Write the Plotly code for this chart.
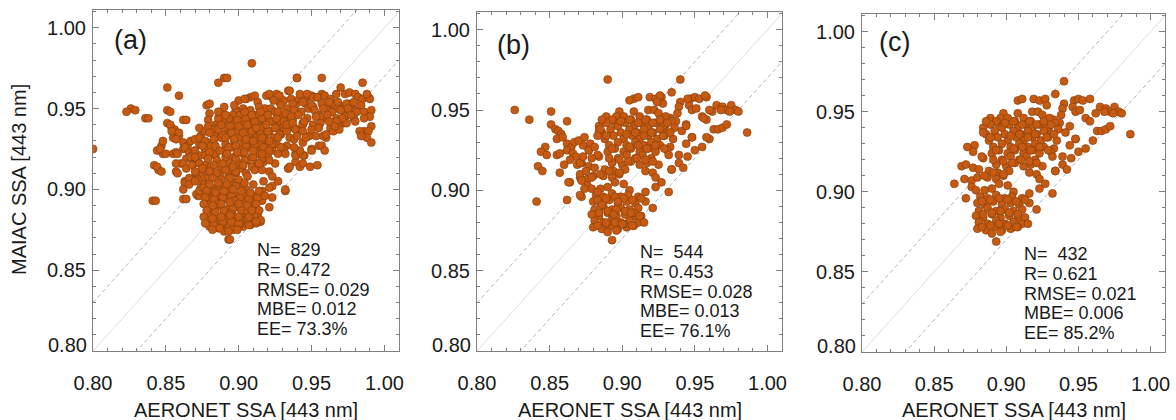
import plotly.graph_objects as go

# ---------------- data ----------------
# points of panel (c) = core + core_fill ; panel (b) = (c) + extra_b ; panel (a) = (b) + extra_a
core_points = [
    (0.940, 0.969), (0.934, 0.961),
    (0.908, 0.957), (0.911, 0.958), (0.919, 0.958), (0.923, 0.957), (0.927, 0.958), (0.928, 0.954),
    (0.918, 0.950), (0.922, 0.950), (0.925, 0.948), (0.908, 0.949),
    (0.940, 0.955), (0.939, 0.952), (0.938, 0.948),
    (0.947, 0.957), (0.950, 0.958), (0.953, 0.957), (0.958, 0.958),
    (0.946, 0.953), (0.948, 0.950), (0.951, 0.951),
    (0.955, 0.946), (0.958, 0.944), (0.962, 0.949), (0.965, 0.953), (0.969, 0.952), (0.972, 0.950),
    (0.975, 0.953), (0.978, 0.950), (0.974, 0.949), (0.980, 0.949), (0.968, 0.950),
    (0.963, 0.938), (0.966, 0.938), (0.969, 0.939), (0.972, 0.941),
    (0.986, 0.936), (0.955, 0.927), (0.960, 0.932),
    (0.898, 0.949), (0.896, 0.946), (0.894, 0.943),
    (0.937, 0.943), (0.933, 0.945), (0.930, 0.941),
    # upper dense block
    (0.889, 0.946), (0.893, 0.944), (0.901, 0.946), (0.906, 0.944), (0.912, 0.946), (0.917, 0.944), (0.930, 0.946), (0.934, 0.943),
    (0.884, 0.940), (0.889, 0.942), (0.897, 0.940), (0.902, 0.942), (0.908, 0.940), (0.913, 0.942), (0.918, 0.940),
    (0.923, 0.942), (0.928, 0.940), (0.936, 0.939), (0.944, 0.941),
    (0.886, 0.936), (0.892, 0.938), (0.899, 0.936), (0.905, 0.938), (0.910, 0.936), (0.915, 0.938), (0.921, 0.936),
    (0.926, 0.938), (0.931, 0.936), (0.941, 0.937),
    (0.888, 0.932), (0.894, 0.934), (0.901, 0.932), (0.907, 0.934), (0.912, 0.932), (0.918, 0.934), (0.924, 0.932),
    (0.929, 0.934), (0.935, 0.932), (0.948, 0.933),
    (0.878, 0.929), (0.891, 0.928), (0.897, 0.930), (0.903, 0.928), (0.909, 0.930), (0.915, 0.928), (0.920, 0.930),
    (0.926, 0.928), (0.933, 0.927), (0.944, 0.929),
    (0.890, 0.924), (0.895, 0.926), (0.901, 0.924), (0.906, 0.926), (0.912, 0.924), (0.918, 0.926), (0.923, 0.924),
    (0.931, 0.925), (0.939, 0.922), (0.950, 0.925),
    (0.884, 0.921), (0.897, 0.920), (0.903, 0.922), (0.909, 0.920), (0.914, 0.922), (0.920, 0.920), (0.932, 0.922), (0.945, 0.921),
    (0.893, 0.917), (0.900, 0.916), (0.906, 0.918), (0.912, 0.916), (0.917, 0.917), (0.925, 0.916), (0.939, 0.917),
    (0.888, 0.913), (0.894, 0.912), (0.902, 0.913), (0.916, 0.912), (0.921, 0.911), (0.934, 0.913), (0.942, 0.914),
    (0.887, 0.909), (0.893, 0.908), (0.898, 0.910), (0.923, 0.908),
    (0.895, 0.905), (0.901, 0.904), (0.927, 0.905),
    # left wing
    (0.884, 0.937), (0.873, 0.928), (0.877, 0.925), (0.883, 0.922), (0.869, 0.916), (0.872, 0.917), (0.877, 0.915),
    (0.881, 0.914), (0.871, 0.908), (0.876, 0.907), (0.880, 0.909), (0.864, 0.905), (0.876, 0.903), (0.879, 0.901),
    (0.872, 0.896),
    # lower lobe
    (0.885, 0.901), (0.890, 0.902), (0.905, 0.900), (0.916, 0.899),
    (0.882, 0.897), (0.887, 0.896), (0.893, 0.898), (0.899, 0.896), (0.904, 0.897), (0.911, 0.896),
    (0.880, 0.893), (0.885, 0.892), (0.891, 0.894), (0.897, 0.892), (0.903, 0.893), (0.909, 0.892), (0.916, 0.893), (0.921, 0.889),
    (0.881, 0.888), (0.887, 0.890), (0.893, 0.888), (0.899, 0.889), (0.905, 0.888), (0.911, 0.889),
    (0.879, 0.885), (0.884, 0.884), (0.890, 0.886), (0.896, 0.884), (0.902, 0.885), (0.908, 0.884), (0.913, 0.884),
    (0.881, 0.881), (0.887, 0.880), (0.893, 0.882), (0.899, 0.880), (0.905, 0.881), (0.911, 0.880), (0.915, 0.880),
    (0.880, 0.877), (0.886, 0.876), (0.892, 0.878), (0.897, 0.876), (0.903, 0.877), (0.908, 0.878),
    (0.890, 0.874), (0.896, 0.875), (0.893, 0.869),
    # right sparse
    (0.923, 0.902), (0.932, 0.899), (0.934, 0.913), (0.948, 0.933),
]

core_fill_points = [
    (0.886, 0.944), (0.899, 0.943), (0.905, 0.944), (0.911, 0.942), (0.916, 0.944), (0.921, 0.942), (0.926, 0.944),
    (0.931, 0.942),
    (0.889, 0.934), (0.903, 0.935), (0.909, 0.936), (0.915, 0.934), (0.920, 0.936), (0.928, 0.934), (0.933, 0.936),
    (0.893, 0.926), (0.905, 0.927), (0.911, 0.928), (0.917, 0.926), (0.923, 0.928), (0.929, 0.926),
    (0.891, 0.920), (0.898, 0.919), (0.904, 0.918), (0.910, 0.920), (0.916, 0.919), (0.921, 0.918),
    (0.885, 0.910), (0.891, 0.912), (0.898, 0.911),
    (0.883, 0.894), (0.889, 0.895), (0.895, 0.896), (0.901, 0.895), (0.907, 0.894), (0.913, 0.895),
    (0.884, 0.886), (0.890, 0.887), (0.896, 0.888), (0.902, 0.887), (0.908, 0.886),
    (0.883, 0.878), (0.889, 0.879), (0.895, 0.880), (0.901, 0.879), (0.907, 0.878),
]

extra_b_points = [
    (0.826, 0.950), (0.836, 0.944),
    (0.851, 0.949), (0.851, 0.941), (0.854, 0.938), (0.856, 0.937), (0.858, 0.935), (0.862, 0.943),
    (0.855, 0.932), (0.859, 0.933), (0.847, 0.927), (0.844, 0.924), (0.848, 0.922), (0.855, 0.922), (0.857, 0.923),
    (0.842, 0.915), (0.845, 0.912), (0.857, 0.911), (0.841, 0.893), (0.863, 0.905), (0.862, 0.894), (0.871, 0.897),
    (0.862, 0.929), (0.865, 0.927), (0.867, 0.930), (0.862, 0.925), (0.866, 0.923), (0.868, 0.921), (0.864, 0.919),
    (0.871, 0.917), (0.860, 0.916),
    (0.870, 0.931), (0.874, 0.933), (0.877, 0.925), (0.873, 0.921), (0.879, 0.920), (0.871, 0.910), (0.875, 0.912),
    (0.885, 0.938), (0.883, 0.934), (0.881, 0.927),
    (0.890, 0.969),
    (0.905, 0.956), (0.926, 0.959), (0.924, 0.955), (0.945, 0.957), (0.957, 0.959), (0.956, 0.945), (0.944, 0.940),
    (0.960, 0.950), (0.958, 0.933),
    (0.883, 0.899), (0.886, 0.891), (0.894, 0.885), (0.900, 0.879), (0.906, 0.886), (0.889, 0.880), (0.912, 0.884),
    (0.897, 0.893), (0.874, 0.901), (0.872, 0.906), (0.879, 0.908),
]

extra_a_points = [
    # outliers and left wing
    (0.800, 0.925), (0.823, 0.948), (0.829, 0.949), (0.838, 0.944), (0.851, 0.963), (0.859, 0.958), (0.843, 0.893),
    (0.844, 0.914), (0.847, 0.911), (0.886, 0.966), (0.892, 0.969), (0.853, 0.948), (0.853, 0.940), (0.864, 0.943),
    (0.854, 0.936), (0.859, 0.935), (0.857, 0.931), (0.848, 0.930), (0.846, 0.925), (0.850, 0.922), (0.858, 0.922),
    (0.857, 0.916), (0.862, 0.916), (0.864, 0.913), (0.858, 0.910), (0.863, 0.904), (0.866, 0.907), (0.864, 0.894),
    (0.873, 0.938), (0.877, 0.936), (0.882, 0.937), (0.886, 0.937), (0.878, 0.952), (0.880, 0.953), (0.873, 0.896),
    (0.894, 0.869), (0.909, 0.978), (0.940, 0.969), (0.957, 0.969), (0.985, 0.966), (0.970, 0.963),
    (0.863, 0.926), (0.867, 0.920), (0.870, 0.924), (0.873, 0.932), (0.877, 0.930), (0.875, 0.927), (0.870, 0.920),
    (0.873, 0.916), (0.877, 0.921), (0.868, 0.915), (0.870, 0.911), (0.875, 0.913), (0.862, 0.900), (0.866, 0.903),
    (0.870, 0.905), (0.873, 0.899), (0.876, 0.901), (0.878, 0.895),
    # upper block (denser in panel a)
    (0.900, 0.955), (0.904, 0.956), (0.913, 0.954), (0.931, 0.955), (0.936, 0.956),
    (0.890, 0.951), (0.897, 0.952), (0.903, 0.950), (0.914, 0.951), (0.929, 0.952), (0.933, 0.950),
    (0.880, 0.947), (0.886, 0.948), (0.891, 0.946), (0.904, 0.948), (0.909, 0.946), (0.915, 0.948), (0.920, 0.946),
    (0.927, 0.948), (0.932, 0.947),
    (0.879, 0.943), (0.894, 0.939),
    (0.879, 0.939), (0.888, 0.940), (0.895, 0.935), (0.900, 0.939), (0.906, 0.940), (0.912, 0.938), (0.919, 0.940),
    (0.925, 0.938), (0.933, 0.940), (0.938, 0.938),
    (0.880, 0.935), (0.897, 0.931),
    (0.883, 0.931), (0.891, 0.932), (0.898, 0.927), (0.905, 0.931), (0.910, 0.930), (0.916, 0.932), (0.921, 0.930),
    (0.927, 0.932), (0.938, 0.931),
    (0.884, 0.927), (0.899, 0.923),
    (0.880, 0.923), (0.887, 0.924), (0.892, 0.922), (0.904, 0.923), (0.910, 0.924), (0.916, 0.922), (0.921, 0.924),
    (0.927, 0.922),
    (0.879, 0.919), (0.885, 0.918),
    (0.883, 0.915), (0.889, 0.916), (0.896, 0.914), (0.903, 0.915), (0.909, 0.914), (0.914, 0.916),
    (0.880, 0.911), (0.905, 0.910), (0.911, 0.912),
    (0.882, 0.907), (0.888, 0.906), (0.894, 0.907), (0.900, 0.906), (0.906, 0.908),
    (0.880, 0.903), (0.886, 0.904), (0.892, 0.903), (0.898, 0.902), (0.904, 0.904), (0.910, 0.903),
    # lower lobe (denser in panel a)
    (0.878, 0.899), (0.884, 0.898), (0.890, 0.899), (0.896, 0.900), (0.902, 0.899), (0.908, 0.898), (0.914, 0.899),
    (0.877, 0.895), (0.918, 0.896),
    (0.876, 0.891), (0.882, 0.890), (0.888, 0.891), (0.894, 0.892), (0.900, 0.891), (0.906, 0.890), (0.912, 0.891),
    (0.878, 0.887), (0.914, 0.887),
    (0.876, 0.883), (0.882, 0.882), (0.888, 0.883), (0.894, 0.884), (0.900, 0.883), (0.906, 0.882),
    (0.877, 0.879), (0.912, 0.879),
    (0.882, 0.875), (0.887, 0.876), (0.893, 0.874), (0.899, 0.875),
    # upper right band
    (0.921, 0.959), (0.928, 0.958), (0.935, 0.961), (0.942, 0.959), (0.947, 0.959), (0.951, 0.957), (0.954, 0.957),
    (0.959, 0.958), (0.963, 0.956), (0.967, 0.959), (0.973, 0.959), (0.976, 0.960), (0.980, 0.959), (0.982, 0.957),
    (0.985, 0.956), (0.989, 0.957), (0.990, 0.956), (0.988, 0.959),
    (0.937, 0.953), (0.944, 0.954), (0.950, 0.952), (0.957, 0.953), (0.962, 0.954), (0.968, 0.954), (0.974, 0.953),
    (0.979, 0.954), (0.984, 0.952),
    (0.938, 0.949), (0.943, 0.948), (0.952, 0.949), (0.958, 0.950), (0.964, 0.948), (0.970, 0.949), (0.975, 0.950),
    (0.981, 0.948),
    (0.936, 0.945), (0.941, 0.946), (0.947, 0.944), (0.953, 0.945), (0.961, 0.946), (0.967, 0.944), (0.973, 0.945),
    (0.979, 0.944),
    (0.937, 0.941), (0.945, 0.942), (0.951, 0.940), (0.956, 0.941), (0.962, 0.942), (0.968, 0.940), (0.974, 0.941),
    (0.939, 0.937), (0.944, 0.936), (0.950, 0.937), (0.955, 0.938), (0.965, 0.936),
    (0.940, 0.933), (0.946, 0.932), (0.953, 0.933), (0.960, 0.934),
    (0.986, 0.948), (0.991, 0.949), (0.990, 0.945), (0.986, 0.944), (0.991, 0.939), (0.989, 0.936), (0.983, 0.936),
    (0.980, 0.942), (0.988, 0.932), (0.991, 0.929), (0.984, 0.933),
    (0.977, 0.946), (0.971, 0.944), (0.967, 0.942), (0.969, 0.937), (0.966, 0.939),
    (0.957, 0.927), (0.959, 0.924), (0.950, 0.924), (0.944, 0.921), (0.944, 0.916), (0.949, 0.914), (0.954, 0.915),
    (0.935, 0.914), (0.939, 0.921), (0.942, 0.924), (0.938, 0.926),
    (0.932, 0.900), (0.923, 0.895), (0.921, 0.901), (0.917, 0.905), (0.915, 0.881), (0.912, 0.880), (0.907, 0.883),
    (0.909, 0.887),
]

panel_c_points = core_points + core_fill_points
panel_b_points = panel_c_points + extra_b_points
panel_a_points = panel_b_points + extra_a_points
panel_points = [panel_a_points, panel_b_points, panel_c_points]

panel_labels = ["(a)", "(b)", "(c)"]
stat_n = ["829", "544", "432"]
stat_r = ["0.472", "0.453", "0.621"]
stat_rmse = ["0.029", "0.028", "0.021"]
stat_mbe = ["0.012", "0.013", "0.006"]
stat_ee = ["73.3%", "76.1%", "85.2%"]
tick_values = [0.80, 0.85, 0.90, 0.95, 1.00]
tick_labels = ["0.80", "0.85", "0.90", "0.95", "1.00"]
x_title = "AERONET SSA [443 nm]"
y_title = "MAIAC SSA [443 nm]"
ee_offset = 0.03
axis_min, x_max, y_max = 0.80, 1.01, 1.011

# ---------------- layout geometry (pixels) ----------------
W, H = 1176, 420
boxes = [(93, 399, 10, 351), (477, 782, 12, 351), (862, 1165, 14, 352)]
label_pos = [(112, 40), (495, 45), (877, 42)]
stats_pos = [(255, 250), (638, 252), (1022, 254)]
stats_step = 19.8
xtitle_y = 410
ytitle_pos = (19, 180)
low_label_raise = 6

FONT = "Liberation Sans, Arial, sans-serif"
TXT = "#1a1a1a"
AX = "#808080"
FILL = "#C65A12"
EDGE = "#7F3C0C"

fig = go.Figure()


def px2x(px):
    return px / W


def px2y(py):
    return 1 - py / H


annotations = []
for i, pts in enumerate(panel_points):
    k = "" if i == 0 else str(i + 1)
    xa, ya = "x" + k, "y" + k
    l, r, t, b = boxes[i]
    xs = [p[0] for p in pts]
    ys = [p[1] for p in pts]
    line_x = [axis_min, x_max]
    fig.add_trace(go.Scatter(x=line_x, y=line_x, mode="lines", xaxis=xa, yaxis=ya,
                             line=dict(color="#dedede", width=1), hoverinfo="skip", showlegend=False))
    for s in (1, -1):
        fig.add_trace(go.Scatter(x=line_x, y=[v + s * ee_offset for v in line_x], mode="lines",
                                 xaxis=xa, yaxis=ya,
                                 line=dict(color="#aab6c6", width=1, dash="4px,3px"),
                                 hoverinfo="skip", showlegend=False))
    fig.add_trace(go.Scatter(x=xs, y=ys, mode="markers", xaxis=xa, yaxis=ya, showlegend=False,
                             marker=dict(size=8.0, color=FILL, line=dict(color=EDGE, width=0.6))))

    common = dict(showgrid=False, zeroline=False, showline=True, linecolor=AX, linewidth=1,
                  mirror="allticks", ticks="inside", ticklen=6, tickcolor=AX, tickwidth=1,
                  tickvals=tick_values, automargin=False,
                  tickfont=dict(family=FONT, size=20, color=TXT),
                  minor=dict(tickvals=[round(0.80 + 0.01 * j, 2) for j in range(22)],
                             ticks="inside", ticklen=3, tickcolor=AX, tickwidth=1))
    fig.layout["xaxis" + k] = dict(common, ticktext=tick_labels, domain=[px2x(l), px2x(r)],
                                   range=[axis_min, x_max], anchor=ya, ticklabelstandoff=14)
    fig.layout["yaxis" + k] = dict(common, ticktext=[""] + tick_labels[1:], domain=[px2y(b), px2y(t)],
                                   range=[axis_min, y_max], anchor=xa, ticklabelstandoff=2)
    # lowest y label sits slightly above the axis corner, as in the original
    annotations.append(dict(x=px2x(l - 4), y=px2y(b - low_label_raise), xref="paper", yref="paper",
                            text=tick_labels[0], showarrow=False, xanchor="right", yanchor="middle",
                            font=dict(family=FONT, size=20, color=TXT)))

    lx, ly = label_pos[i]
    annotations.append(dict(x=px2x(lx), y=px2y(ly), xref="paper", yref="paper", text=panel_labels[i],
                            showarrow=False, xanchor="left", yanchor="middle",
                            font=dict(family=FONT, size=27, color=TXT)))
    sx, sy = stats_pos[i]
    lines = ["N=\u00a0\u00a0" + stat_n[i], "R=\u00a0" + stat_r[i], "RMSE=\u00a0" + stat_rmse[i],
             "MBE=\u00a0" + stat_mbe[i], "EE=\u00a0" + stat_ee[i]]
    for j, txt in enumerate(lines):
        annotations.append(dict(x=px2x(sx), y=px2y(sy + j * stats_step), xref="paper", yref="paper",
                                text=txt, showarrow=False, xanchor="left", yanchor="middle",
                                font=dict(family=FONT, size=18, color=TXT)))
    annotations.append(dict(x=px2x((l + r) / 2), y=px2y(xtitle_y), xref="paper", yref="paper",
                            text=x_title, showarrow=False, xanchor="center", yanchor="middle",
                            font=dict(family=FONT, size=20, color=TXT)))

annotations.append(dict(x=px2x(ytitle_pos[0]), y=px2y(ytitle_pos[1]), xref="paper", yref="paper",
                        text=y_title, showarrow=False, textangle=-90, xanchor="center", yanchor="middle",
                        font=dict(family=FONT, size=20, color=TXT)))

fig.update_layout(width=W, height=H, autosize=False, margin=dict(l=0, r=0, t=0, b=0, pad=0),
                  paper_bgcolor="white", plot_bgcolor="white", annotations=annotations,
                  font=dict(family=FONT, color=TXT))

fig.write_html(
    "out.html", include_plotlyjs=True, config={"displayModeBar": False},
    post_script=("var gd=document.getElementById('{plot_id}');"
                 "gd.style.position='fixed';gd.style.left='0px';gd.style.top='0px';"
                 "document.body.style.margin='0';document.documentElement.style.overflow='hidden';"))
